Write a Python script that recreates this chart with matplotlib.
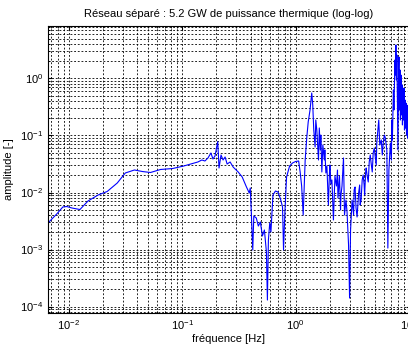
import matplotlib
matplotlib.use("Agg")
import matplotlib.pyplot as plt
from matplotlib.ticker import LogLocator, NullFormatter

plt.rcParams['font.family'] = ['Liberation Sans', 'DejaVu Sans']
plt.rcParams['mathtext.fontset'] = 'custom'
plt.rcParams['mathtext.rm'] = 'Liberation Sans'
plt.rcParams['mathtext.it'] = 'Liberation Sans:italic'
plt.rcParams['mathtext.default'] = 'regular'

title = "Réseau séparé : 5.2 GW de puissance thermique (log-log)"
xlabel = "fréquence [Hz]"
ylabel = "amplitude [-]"

freq = [0.00655, 0.00782, 0.00885, 0.0096, 0.01064, 0.01253, 0.01476, 0.01811, 0.02178, 0.02673,
        0.03148, 0.03788, 0.04457, 0.05248, 0.06442, 0.08238, 0.1031, 0.1190, 0.1374, 0.1490,
        0.1585, 0.1686, 0.1791, 0.1866, 0.1945, 0.2056, 0.2111, 0.2198, 0.2291, 0.2388,
        0.2488, 0.2644, 0.2812, 0.3114, 0.3380, 0.3668, 0.3899, 0.3981, 0.4064, 0.4188,
        0.4277, 0.4500, 0.4689, 0.4887, 0.5093, 0.5305, 0.5525, 0.5638, 0.5754, 0.5912,
        0.6055, 0.631, 0.6637, 0.6988, 0.7356, 0.7664, 0.7822, 0.8035, 0.8318, 0.8851,
        0.9404, 1.0, 1.063, 1.096, 1.130, 1.166, 1.191, 1.214, 1.253, 1.291,
        1.340, 1.387, 1.416, 1.445, 1.485, 1.537, 1.591, 1.617, 1.651, 1.703,
        1.738, 1.791, 1.848, 1.887, 1.945, 1.986, 2.047, 2.089, 2.154, 2.222,
        2.291, 2.362, 2.436, 2.488, 2.564, 2.643, 2.698, 2.780, 2.840, 2.929,
        2.991, 3.051, 3.147, 3.246, 3.343, 3.483, 3.594, 3.707, 3.863, 4.020,
        4.146, 4.276, 4.457, 4.642, 4.831, 5.036, 5.196, 5.408, 5.521, 5.696,
        5.934, 6.183, 6.374, 6.506, 6.643,
        6.85, 6.99, 7.06, 7.13, 7.28, 7.36, 7.51, 7.59, 7.66, 7.74,
        7.82, 7.90, 7.98, 8.07, 8.15, 8.23, 8.32, 8.40, 8.49, 8.58,
        8.67, 8.75, 8.85, 8.94, 9.03, 9.12, 9.21, 9.31, 9.40, 9.50,
        9.60, 9.70, 9.80, 9.90, 10.0, 10.1, 10.2,
        1.506, 1.668, 1.81, 2.005, 2.199, 2.339, 2.512,
        3.28, 3.41, 3.67, 3.78, 3.94, 4.06, 4.19, 4.37, 4.55, 4.74,
        4.94, 5.14, 5.81, 6.06]

amp = [0.00292, 0.0042, 0.00557, 0.00568, 0.00535, 0.00503, 0.0071, 0.00904, 0.01042, 0.01468,
       0.022, 0.02483, 0.02334, 0.02244, 0.02535, 0.02636, 0.02917, 0.0316, 0.0343, 0.0372,
       0.0357, 0.0403, 0.0493, 0.0387, 0.0437, 0.0778, 0.0269, 0.0455, 0.0372, 0.042,
       0.0316, 0.0343, 0.028, 0.0229, 0.0187, 0.01274, 0.0098, 0.0120, 0.00455, 0.00098,
       0.00387, 0.00357, 0.00258, 0.00304, 0.00173, 0.0022, 0.000904, 0.00013, 0.00147, 0.00292,
       0.00203, 0.00904, 0.01062, 0.01021, 0.00769, 0.00557, 0.00098, 0.00437, 0.0187, 0.0292,
       0.033, 0.035, 0.0357, 0.0229, 0.013, 0.00403, 0.01355, 0.0372, 0.0904, 0.1726,
       0.28, 0.557, 0.343, 0.125, 0.0629, 0.125, 0.0372, 0.1355, 0.0557, 0.0229,
       0.0681, 0.0372, 0.022, 0.0292, 0.00604, 0.0211, 0.0141, 0.0166, 0.0033, 0.0195,
       0.013, 0.00801, 0.0195, 0.00493, 0.013, 0.0403, 0.00403, 0.00738, 0.00455, 0.0012,
       0.000141, 0.0022, 0.00738, 0.00403, 0.01248, 0.00372, 0.0098, 0.00604, 0.0166, 0.01355,
       0.0229, 0.0195, 0.0343, 0.0316, 0.0493, 0.042, 0.0738, 0.187, 0.0681, 0.0834,
       0.0769, 0.0904, 0.0557, 0.00106, 0.0248,
       0.074, 0.037, 0.187, 0.083, 0.63, 0.28, 2.11, 1.15, 3.87, 0.94,
       2.58, 0.42, 0.056, 0.94, 2.38, 0.28, 1.41, 0.187, 1.15, 0.23,
       0.77, 0.153, 0.63, 0.187, 0.68, 0.125, 0.42, 0.135, 0.37, 0.102,
       0.34, 0.090, 0.28, 0.083, 0.26, 0.077, 0.23,
       0.187, 0.102, 0.056, 0.0304, 0.0111, 0.0248, 0.00904,
       0.0111, 0.00535, 0.01355, 0.00738, 0.0203, 0.00904, 0.0269, 0.0153, 0.0455, 0.0229,
       0.0604, 0.0304, 0.0455, 0.102]

assert len(freq) == len(amp), (len(freq), len(amp))
pairs = sorted(zip(freq, amp))
f_sorted = [p[0] for p in pairs]
a_sorted = [p[1] for p in pairs]

fig = plt.figure(figsize=(4.08, 3.5), dpi=100)
ax = fig.add_axes([48 / 408, 37 / 350, 362 / 408, 287.5 / 350])

ax.loglog(f_sorted, a_sorted, color='#0000ff', linewidth=0.8)

ax.set_xlim(0.00655, 10.2)
ax.set_ylim(7.7e-5, 8.5)

ax.xaxis.set_major_locator(LogLocator(base=10, numticks=20))
ax.yaxis.set_major_locator(LogLocator(base=10, numticks=20))
ax.xaxis.set_minor_locator(LogLocator(base=10, subs=range(2, 10), numticks=100))
ax.yaxis.set_minor_locator(LogLocator(base=10, subs=range(2, 10), numticks=100))
ax.xaxis.set_minor_formatter(NullFormatter())
ax.yaxis.set_minor_formatter(NullFormatter())

ax.grid(True, which='both', color='black', linestyle=(0, (2.2, 2.2)), linewidth=0.6)
ax.set_axisbelow(True)

ax.tick_params(which='both', direction='in', labelsize=8, top=True, right=True)
ax.tick_params(which='major', length=3)
ax.tick_params(which='minor', length=1.5)
for s in ax.spines.values():
    s.set_linewidth(0.8)

ax.set_title(title, fontsize=8, pad=6)
ax.set_xlabel(xlabel, fontsize=8, labelpad=2)
ax.set_ylabel(ylabel, fontsize=8, labelpad=4)

fig.savefig("out.png", dpi=100)
